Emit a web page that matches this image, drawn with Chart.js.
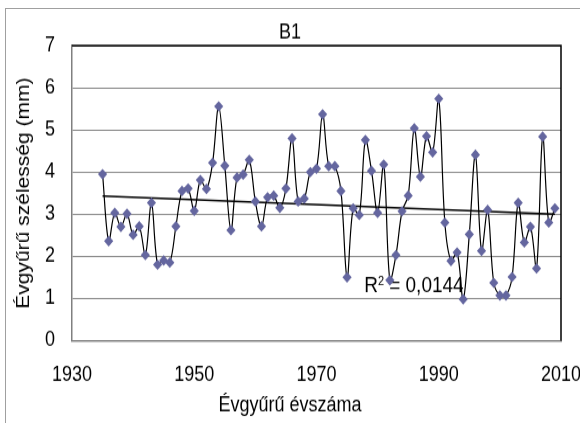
<!DOCTYPE html>
<html lang="hu">
<head>
<meta charset="utf-8">
<title>B1</title>
<script src="https://cdn.jsdelivr.net/npm/chart.js@4.4.1/dist/chart.umd.min.js"></script>
<style>
  html, body { margin: 0; padding: 0; background: #fff; overflow: hidden; }
  body { width: 580px; height: 423px; position: relative; }
  .frame { position: absolute; left: 5px; top: 8px; width: 700px; height: 600px; border: 1px solid #a0a0a0; }
  /* the original picture is stretched vertically, so draw at 362px and scale up */
  .stage { position: absolute; left: 0; top: 0; width: 580px; height: 362px; transform: scaleY(1.1685); transform-origin: 0 0; }
</style>
</head>
<body>
<div class="frame"></div>
<div class="stage"><canvas id="chart" width="580" height="362"></canvas></div>
<script>
const YEARS = [
  1935, 1936, 1937, 1938, 1939, 1940, 1941, 1942, 1943, 1944,
  1945, 1946, 1947, 1948, 1949, 1950, 1951, 1952, 1953, 1954,
  1955, 1956, 1957, 1958, 1959, 1960, 1961, 1962, 1963, 1964,
  1965, 1966, 1967, 1968, 1969, 1970, 1971, 1972, 1973, 1974,
  1975, 1976, 1977, 1978, 1979, 1980, 1981, 1982, 1983, 1984,
  1985, 1986, 1987, 1988, 1989, 1990, 1991, 1992, 1993, 1994,
  1995, 1996, 1997, 1998, 1999, 2000, 2001, 2002, 2003, 2004,
  2005, 2006, 2007, 2008, 2009
];

// ring width, mm
const WIDTHS = [
  3.95, 2.36, 3.03, 2.70, 3.01, 2.51, 2.71, 2.03, 3.27, 1.80,
  1.90, 1.85, 2.71, 3.55, 3.61, 3.08, 3.81, 3.60, 4.22, 5.56,
  4.15, 2.62, 3.87, 3.94, 4.29, 3.30, 2.71, 3.40, 3.44, 3.15,
  3.61, 4.80, 3.30, 3.37, 4.00, 4.08, 5.37, 4.14, 4.14, 3.55,
  1.50, 3.14, 2.98, 4.76, 4.03, 3.03, 4.18, 1.43, 2.03, 3.07,
  3.44, 5.04, 3.89, 4.85, 4.47, 5.74, 2.80, 1.89, 2.09, 0.98,
  2.52, 4.41, 2.13, 3.10, 1.37, 1.07, 1.07, 1.51, 3.27, 2.33,
  2.70, 1.71, 4.84, 2.80, 3.14
];

// linear trend, read at both ends
const TREND_YEARS = [1935, 2009];
const TREND_VALUES = [3.43, 3.00];

const R2_TEXT = " = 0,0144";
const R2_LABEL_AT = [1977.8, 1.16];

const X_TICKS = [1930, 1950, 1970, 1990, 2010];
const Y_TICKS = [0, 1, 2, 3, 4, 5, 6, 7];

const MARKER = "#64669f";
const FONT = "'Liberation Sans', Arial, sans-serif";

Chart.defaults.font.family = FONT;
Chart.defaults.font.size = 18;
Chart.defaults.color = "#000";

const plotExtras = {
  id: "plotExtras",
  beforeDatasetsDraw(chart) {
    const { ctx, chartArea: a, scales } = chart;
    ctx.save();

    // dark top and right edge of the plot area
    ctx.strokeStyle = "#000";
    ctx.lineWidth = 1.5;
    ctx.beginPath();
    ctx.moveTo(a.left, a.top);
    ctx.lineTo(a.right, a.top);
    ctx.lineTo(a.right, a.bottom);
    ctx.stroke();

    // R² label of the trend line
    const x = scales.x.getPixelForValue(R2_LABEL_AT[0]);
    const y = scales.y.getPixelForValue(R2_LABEL_AT[1]);
    ctx.fillStyle = "#000";
    ctx.textBaseline = "alphabetic";
    ctx.textAlign = "left";
    ctx.font = "19px " + FONT;
    ctx.fillText("R", x, y);
    const rw = ctx.measureText("R").width;
    ctx.font = "11px " + FONT;
    ctx.fillText("2", x + rw, y - 6);
    ctx.font = "19px " + FONT;
    ctx.fillText(R2_TEXT, x + rw + 6, y);

    ctx.restore();
  }
};

new Chart(document.getElementById("chart"), {
  type: "line",
  data: {
    datasets: [
      {
        label: "B1",
        data: YEARS.map((year, i) => ({ x: year, y: WIDTHS[i] })),
        borderColor: "#000",
        borderWidth: 1.2,
        tension: 0.35,
        pointStyle: "rectRot",
        pointRadius: 4.6,
        pointBackgroundColor: MARKER,
        pointBorderColor: MARKER,
        pointBorderWidth: 0,
        order: 0
      },
      {
        label: "Lineáris",
        data: TREND_YEARS.map((year, i) => ({ x: year, y: TREND_VALUES[i] })),
        borderColor: "#000",
        borderWidth: 1.5,
        pointRadius: 0,
        tension: 0,
        order: 1
      }
    ]
  },
  options: {
    responsive: false,
    animation: false,
    events: [],
    layout: {
      padding: 0
    },
    plugins: {
      legend: { display: false },
      tooltip: { enabled: false },
      title: {
        display: true,
        text: "B1",
        color: "#000",
        font: { size: 18, weight: "normal" },
        padding: { top: 17, bottom: 0.5 }
      },
      subtitle: {
        display: true,
        position: "bottom",
        text: "Évgyűrű évszáma",
        color: "#000",
        font: { size: 18, weight: "normal" },
        padding: { top: 0, bottom: 4 }
      }
    },
    scales: {
      x: {
        type: "linear",
        min: X_TICKS[0],
        max: X_TICKS[X_TICKS.length - 1],
        afterBuildTicks: scale => {
          scale.ticks = X_TICKS.map(v => ({ value: v }));
        },
        ticks: {
          padding: 19,
          maxRotation: 0,
          autoSkip: false,
          callback: v => String(v)
        },
        grid: { display: false, drawTicks: false },
        border: { display: true, color: "#808080", width: 1.5 },
        afterFit: scale => {
          // keep the plot area where the original has it
          scale.height = 45;
          scale.paddingLeft = 0;
          scale.paddingRight = 19;
        }
      },
      y: {
        min: Y_TICKS[0],
        max: Y_TICKS[Y_TICKS.length - 1],
        afterBuildTicks: scale => {
          scale.ticks = Y_TICKS.map(v => ({ value: v }));
        },
        ticks: { padding: 17 },
        grid: { color: "#8c8c8c", lineWidth: 1, drawTicks: false },
        border: { display: true, color: "#808080", width: 1.5 },
        title: {
          display: true,
          text: "Évgyűrű szélesség (mm)",
          color: "#000",
          font: { size: 18 },
          padding: { top: 13.7, bottom: 0 }
        },
        afterFit: scale => {
          scale.width = 72;
        }
      }
    }
  },
  plugins: [plotExtras]
});
</script>
</body>
</html>
